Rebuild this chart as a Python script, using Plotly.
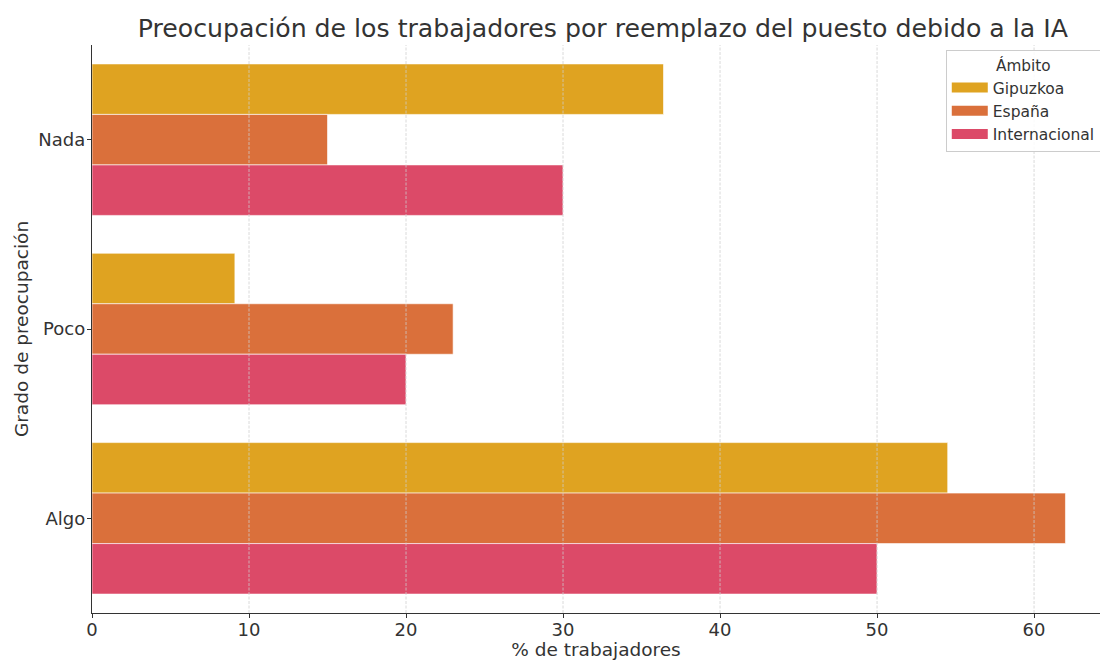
import plotly.graph_objects as go

# Survey data: share of workers (%) by level of concern and scope
categorias = ["Nada", "Poco", "Algo"]
gipuzkoa = [36.4, 9.1, 54.5]
espana = [15.0, 23.0, 62.0]
internacional = [30.0, 20.0, 50.0]
x_ticks = [0, 10, 20, 30, 40, 50, 60]

series = [
    ("Gipuzkoa", gipuzkoa, "#DFA321"),
    ("España", espana, "#DA703B"),
    ("Internacional", internacional, "#DC4A68"),
]

font_family = "DejaVu Sans, Verdana, sans-serif"
text_color = "#333333"

fig = go.Figure()
for nombre, valores, color in series:
    fig.add_trace(go.Bar(
        name=nombre,
        x=valores,
        y=categorias,
        orientation="h",
        legendgroup=nombre,
        showlegend=False,
        marker=dict(color=color, line=dict(color="rgba(255,255,255,0.6)", width=1)),
    ))

# Legend entries drawn as wide rectangular swatches
for nombre, valores, color in series:
    fig.add_trace(go.Scatter(
        name=nombre,
        x=[None],
        y=[None],
        mode="lines",
        legendgroup=nombre,
        line=dict(color=color, width=11),
        hoverinfo="skip",
    ))

# Dashed vertical gridlines drawn over the bars
for t in x_ticks[1:]:
    fig.add_shape(
        type="line", xref="x", yref="paper",
        x0=t, x1=t, y0=0, y1=1,
        layer="above",
        line=dict(color="rgba(205,205,205,0.75)", width=1, dash="3px,1.5px"),
    )

fig.update_layout(
    width=1100,
    height=660,
    margin=dict(l=92, r=0, t=45, b=47, autoexpand=False),
    paper_bgcolor="white",
    plot_bgcolor="white",
    barmode="group",
    bargap=0.2,
    bargroupgap=0,
    font=dict(family=font_family, color=text_color, size=18),
    title=dict(
        text="Preocupación de los trabajadores por reemplazo del puesto debido a la IA",
        x=0.548, xanchor="center",
        y=0.958, yanchor="middle",
        font=dict(size=25.2, color=text_color),
    ),
    legend=dict(
        title=dict(text="Ámbito", side="top center", font=dict(size=15.3)),
        font=dict(size=15.5),
        x=0.847, xanchor="left",
        y=0.991, yanchor="top",
        bgcolor="rgba(255,255,255,0.85)",
        bordercolor="#cccccc",
        borderwidth=1,
        traceorder="normal",
        itemwidth=36,
        tracegroupgap=0,
    ),
    xaxis=dict(
        title=dict(text="% de trabajadores", font=dict(size=18.5), standoff=2),
        automargin=True,
        range=[0, 64.2],
        tickvals=x_ticks,
        showgrid=False,
        showline=True,
        linecolor="#333333",
        linewidth=1.3,
        ticks="outside",
        ticklen=4,
        ticklabelstandoff=-4,
        tickcolor="#333333",
        zeroline=False,
        tickfont=dict(size=18),
    ),
    yaxis=dict(
        title=dict(text="Grado de preocupación", font=dict(size=18.5), standoff=4),
        automargin=True,
        categoryorder="array",
        categoryarray=categorias,
        autorange="reversed",
        showgrid=False,
        showline=True,
        linecolor="#333333",
        linewidth=1.3,
        ticks="outside",
        ticklen=4,
        ticklabelstandoff=-2,
        tickcolor="#333333",
        tickfont=dict(size=18),
    ),
)

fig.write_html("out.html")
